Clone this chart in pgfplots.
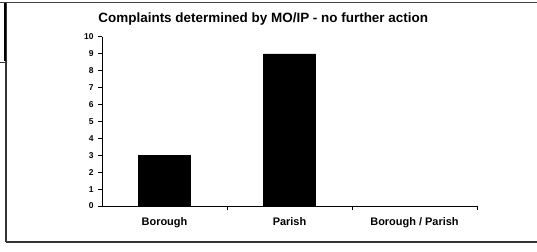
\documentclass[border=0pt]{standalone}
\usepackage{fontspec}
\setmainfont{Liberation Sans}
\usepackage{pgfplots}
\pgfplotsset{compat=1.18}
\begin{document}
\begin{tikzpicture}[x=1bp,y=1bp]
\path[use as bounding box] (0,0) rectangle (537,251);
% frame
\draw[line width=1.5bp,black!75] (0,248.5) -- (537,248.5);
\draw[line width=1.2bp,black!80] (6,248.5) -- (6,9);
\draw[line width=1.5bp,black!80] (6,9) -- (537,9);
\draw[line width=2.5bp,black] (5,248) -- (5,190);
\draw[line width=0.8bp,black!80] (0,189) -- (6,189);
\begin{axis}[
  at={(102bp,45bp)}, anchor=south west,
  scale only axis, width=375bp, height=169bp,
  xmin=-0.5, xmax=2.5, ymin=0, ymax=10,
  axis x line*=bottom, axis y line*=left,
  axis line style={line width=1bp},
  ytick={0,...,10},
  xtick={0,1,2},
  xticklabels={Borough,Parish,Borough / Parish},
  major x tick style={draw=none},
  minor xtick={0.5,1.5,2.5},
  minor tick length=4bp,
  major tick length=4bp,
  tick align=outside,
  tick style={line width=1bp,black},
  /pgf/number format/assume math mode=true,
  yticklabel style={font=\fontsize{8.5}{10}\selectfont\bfseries, xshift=-1bp},
  xticklabel style={font=\fontsize{11}{12}\selectfont\bfseries, yshift=-4bp},
  ybar, bar width=52bp,
  title={Complaints determined by MO/IP - no further action},
  title style={font=\fontsize{13.5}{15}\selectfont\bfseries, at={(0.43,1)}, yshift=2bp},
]
\addplot[fill=black, draw=black, bar shift=0pt] coordinates {(0,3) (1,9) (2,0)};
\end{axis}
\end{tikzpicture}
\end{document}
